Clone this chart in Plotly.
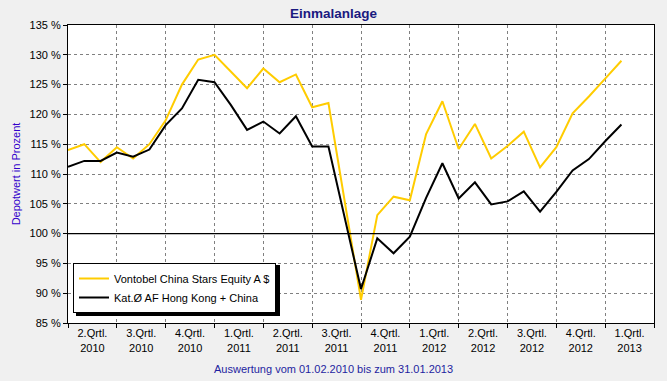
import plotly.graph_objects as go

# ---- data ----
months = list(range(35))  # monthly observations, index 0 = Feb 2010
vontobel = [114.0, 115.0, 112.0, 114.5, 112.6, 115.0, 119.0, 125.0, 129.2, 130.0,
            127.2, 124.4, 127.7, 125.4, 126.7, 121.2, 121.9, 105.7, 88.9, 103.1,
            106.2, 105.6, 116.7, 122.2, 114.2, 118.4, 112.6, 114.7, 117.1, 111.1,
            114.5, 120.2, 123.0, 126.0, 129.0]
kategorie = [111.2, 112.2, 112.2, 113.6, 112.9, 114.1, 118.2, 121.0, 125.8, 125.4,
             121.6, 117.4, 118.8, 116.8, 119.7, 114.6, 114.6, 102.6, 90.7, 99.2,
             96.7, 99.5, 106.0, 111.8, 105.9, 108.6, 104.9, 105.4, 107.1, 103.7,
             107.0, 110.6, 112.5, 115.5, 118.3]
quarter_labels = ["2.Qrtl.<br>2010", "3.Qrtl.<br>2010", "4.Qrtl.<br>2010",
                  "1.Qrtl.<br>2011", "2.Qrtl.<br>2011", "3.Qrtl.<br>2011",
                  "4.Qrtl.<br>2011", "1.Qrtl.<br>2012", "2.Qrtl.<br>2012",
                  "3.Qrtl.<br>2012", "4.Qrtl.<br>2012", "1.Qrtl.<br>2013"]
quarter_centers = [1.5 + 3 * i for i in range(len(quarter_labels))]
series_names = ["Vontobel China Stars Equity A $", "Kat.Ø AF Hong Kong + China"]

FONT = "Liberation Sans, Arial, sans-serif"
PW, PH, L, B = 586, 298, 68, 323  # plot width/height, left and bottom pixel


def px_x(p):
    return (p - L) / PW


def px_y(p):
    return (B - p) / PH


fig = go.Figure()
fig.add_trace(go.Scatter(x=months, y=vontobel, mode="lines", name=series_names[0],
                         line=dict(color="#FFCC00", width=2)))
fig.add_trace(go.Scatter(x=months, y=kategorie, mode="lines", name=series_names[1],
                         line=dict(color="#000000", width=2)))

# 100 % reference line
fig.add_shape(type="line", xref="paper", x0=0, x1=1, yref="y", y0=100, y1=100,
              line=dict(color="black", width=1.2), layer="above")

# legend drop shadow (legend box is drawn on top of it)
fig.add_shape(type="rect", xref="paper", yref="paper",
              x0=px_x(76), x1=px_x(280), y0=px_y(316), y1=px_y(265),
              fillcolor="black", line=dict(width=0), layer="above")

fig.update_layout(
    width=667, height=381,
    paper_bgcolor="#F0F0F0", plot_bgcolor="white",
    margin=dict(l=68, r=13, t=25, b=58),
    font=dict(family=FONT, size=11, color="black"),
    title=dict(text="<b>Einmalanlage</b>", x=0.5, xref="container", xanchor="center",
               y=1 - 13 / 381, yref="container", yanchor="middle",
               font=dict(size=13.5, color="#1A1A80", family=FONT)),
    showlegend=True,
    legend=dict(x=px_x(73), y=px_y(313), xanchor="left", yanchor="bottom",
                bgcolor="white", bordercolor="black", borderwidth=1,
                font=dict(size=11, color="black", family=FONT),
                tracegroupgap=0, itemwidth=30),
    xaxis=dict(range=[0, 36], tickmode="array", tickvals=quarter_centers,
               ticktext=quarter_labels, ticks="", showgrid=False,
               showline=True, linecolor="black", linewidth=1, mirror=True,
               zeroline=False, tickfont=dict(size=11, color="black"),
               minor=dict(tick0=0, dtick=3, showgrid=True, gridcolor="#808080",
                          griddash="3px,3px", gridwidth=1, ticks="outside",
                          ticklen=4, tickcolor="black")),
    yaxis=dict(range=[85, 135], tickmode="linear", tick0=85, dtick=5,
               ticksuffix=" %", showgrid=True, gridcolor="#808080",
               griddash="3px,3px", gridwidth=1, ticks="outside", ticklen=4,
               tickcolor="black", showline=True, linecolor="black", linewidth=1,
               mirror=True, zeroline=False, tickfont=dict(size=11, color="black"),
               title=dict(text="Depotwert in Prozent", standoff=6,
                          font=dict(size=11, color="#3300CC"))),
    annotations=[dict(text="Auswertung vom 01.02.2010 bis zum 31.01.2013",
                      xref="paper", yref="paper", x=px_x(333),
                      y=px_y(369), xanchor="center", yanchor="middle",
                      showarrow=False, font=dict(size=11, color="#1E1EA0"))],
)

fig.write_html("out.html", config={"displayModeBar": False},
               post_script="document.body.style.margin='0';document.body.style.padding='0';")
